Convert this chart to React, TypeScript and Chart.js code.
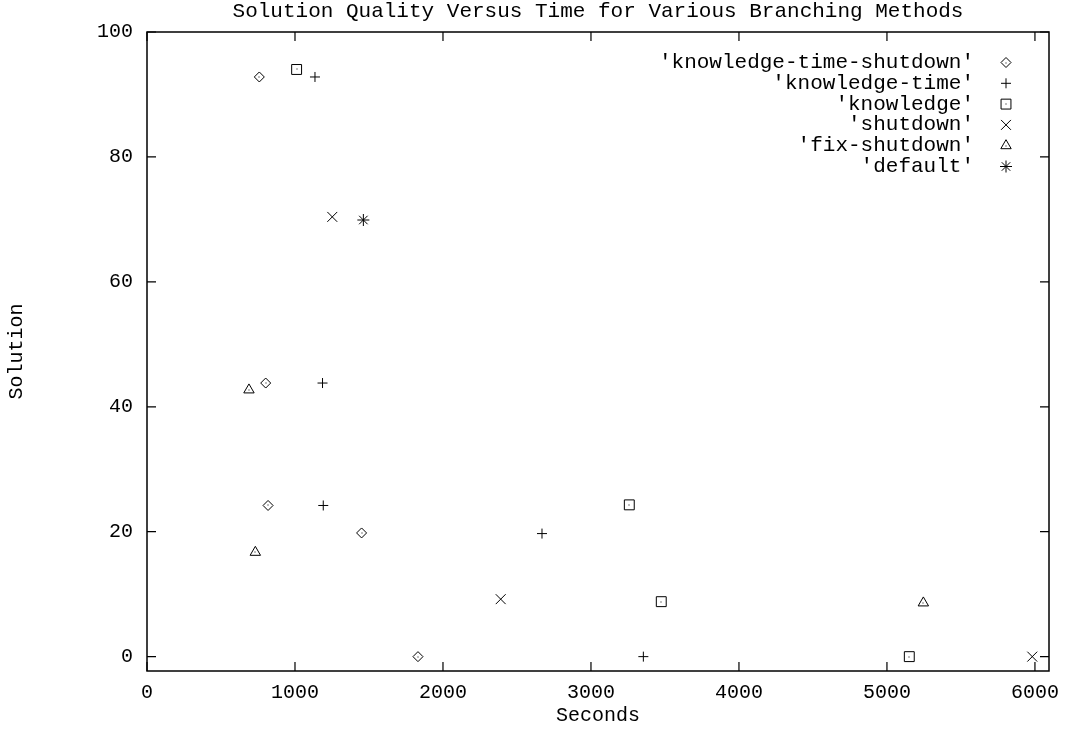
import React, { useEffect, useRef } from "react";
import { Chart, registerables } from "chart.js";
import { drawPoint } from "chart.js/helpers";

Chart.register(...registerables);

const chartTitle = "Solution Quality Versus Time for Various Branching Methods";
const xAxisTitle = "Seconds";
const yAxisTitle = "Solution";

const seriesNames = [
  "'knowledge-time-shutdown'",
  "'knowledge-time'",
  "'knowledge'",
  "'shutdown'",
  "'fix-shutdown'",
  "'default'",
];

const ktsX = [759, 802, 818, 1450, 1831];
const ktsY = [92.8, 43.8, 24.2, 19.8, 0];
const ktX = [1135, 1186, 1191, 2669, 3354];
const ktY = [92.8, 43.8, 24.2, 19.7, 0];
const kX = [1011, 3259, 3475, 5151];
const kY = [94.0, 24.3, 8.8, 0];
const shutX = [1252, 2390, 5982];
const shutY = [70.4, 9.2, 0];
const fixX = [689, 732, 5246];
const fixY = [42.7, 16.7, 8.6];
const defX = [1462];
const defY = [69.9];

const xTicks = [0, 1000, 2000, 3000, 4000, 5000, 6000];
const yTicks = [0, 20, 40, 60, 80, 100];

const seriesX = [ktsX, ktX, kX, shutX, fixX, defX];
const seriesY = [ktsY, ktY, kY, shutY, fixY, defY];
const pointStyles = ["rectRot", "cross", "rect", "crossRot", "triangle", "star"];
const pointRadii = [5, 5, 7, 7, 6, 6];
const centerDot = [true, false, true, false, true, false];

const FONT = "'Liberation Mono', 'DejaVu Sans Mono', monospace";

const decorPlugin = {
  id: "decor",
  afterDatasetsDraw(chart: any) {
    const ctx = chart.ctx;
    ctx.save();
    ctx.fillStyle = "#000";
    chart.data.datasets.forEach((ds: any, i: number) => {
      if (!centerDot[i]) return;
      const meta = chart.getDatasetMeta(i);
      meta.data.forEach((el: any) => {
        ctx.fillRect(Math.round(el.x) - 0.5, Math.round(el.y) - 0.5, 1, 1);
      });
    });
    ctx.restore();
  },
  afterDraw(chart: any) {
    const ctx = chart.ctx;
    const { left, right, top, bottom } = chart.chartArea;
    const xs = chart.scales.x;
    const ys = chart.scales.y;
    ctx.save();
    ctx.strokeStyle = "#000";
    ctx.lineWidth = 1.5;
    ctx.strokeRect(left, top, right - left, bottom - top);
    ctx.lineWidth = 1.2;
    const tl = 9;
    ctx.beginPath();
    xTicks.forEach((v) => {
      const px = xs.getPixelForValue(v);
      ctx.moveTo(px, bottom);
      ctx.lineTo(px, bottom - tl);
      ctx.moveTo(px, top);
      ctx.lineTo(px, top + tl);
    });
    yTicks.forEach((v) => {
      const py = ys.getPixelForValue(v);
      ctx.moveTo(left, py);
      ctx.lineTo(left + tl, py);
      ctx.moveTo(right, py);
      ctx.lineTo(right - tl, py);
    });
    ctx.stroke();

    ctx.fillStyle = "#000";
    ctx.font = `21px ${FONT}`;
    ctx.textAlign = "center";
    ctx.textBaseline = "middle";
    const cx = (left + right) / 2;
    ctx.fillText(chartTitle, cx, 11);
    ctx.font = `20px ${FONT}`;
    ctx.fillText(xAxisTitle, cx, 716);
    ctx.save();
    ctx.translate(17, (top + bottom) / 2);
    ctx.rotate(-Math.PI / 2);
    ctx.fillText(yAxisTitle, 0, 0);
    ctx.restore();

    // legend
    ctx.font = `21px ${FONT}`;
    ctx.textAlign = "right";
    seriesNames.forEach((name, i) => {
      const y = 62.5 + 20.8 * i;
      ctx.fillStyle = "#000";
      ctx.fillText(name, 974, y);
      ctx.strokeStyle = "#000";
      ctx.lineWidth = 1;
      ctx.fillStyle = "rgba(0,0,0,0)";
      drawPoint(
        ctx,
        { pointStyle: pointStyles[i], radius: pointRadii[i], borderWidth: 1, rotation: 0 } as any,
        1006,
        y
      );
      ctx.fillStyle = "#000";
      if (centerDot[i]) ctx.fillRect(1005.5, Math.round(y) - 0.5, 1, 1);
    });
    ctx.restore();
  },
};

export default function App() {
  const ref = useRef<HTMLCanvasElement | null>(null);
  useEffect(() => {
    if (!ref.current) return;
    const datasets = seriesNames.map((name, i) => ({
      label: name,
      data: seriesX[i].map((x, j) => ({ x, y: seriesY[i][j] })),
      pointStyle: pointStyles[i],
      pointRadius: pointRadii[i],
      pointHoverRadius: pointRadii[i],
      pointBorderWidth: 1,
      pointBorderColor: "#000",
      pointBackgroundColor: "rgba(0,0,0,0)",
      borderColor: "#000",
      showLine: false,
    }));
    const chart = new Chart(ref.current, {
      type: "scatter",
      data: { datasets } as any,
      options: {
        animation: false,
        responsive: false,
        events: [],
        layout: { padding: { top: 32, right: 16, left: 0, bottom: 0 } },
        plugins: { legend: { display: false }, tooltip: { enabled: false }, title: { display: false } },
        scales: {
          x: {
            type: "linear",
            min: 0,
            max: 6095,
            afterBuildTicks: (s: any) => {
              s.ticks = xTicks.map((v) => ({ value: v }));
            },
            afterFit: (s: any) => {
              s.height = 58;
              s.paddingLeft = 0;
              s.paddingRight = 0;
            },
            grid: { display: true, drawOnChartArea: false, drawTicks: false },
            border: { display: false },
            ticks: {
              padding: 10,
              color: "#000",
              font: { family: FONT, size: 20 },
              maxRotation: 0,
              autoSkip: false,
              callback: (v: any) => String(v),
            },
          },
          y: {
            type: "linear",
            min: -2.3,
            max: 100,
            afterBuildTicks: (s: any) => {
              s.ticks = yTicks.map((v) => ({ value: v }));
            },
            afterFit: (s: any) => {
              s.width = 147;
              s.paddingTop = 0;
              s.paddingBottom = 0;
            },
            grid: { display: true, drawOnChartArea: false, drawTicks: false },
            border: { display: false },
            ticks: {
              padding: 14,
              color: "#000",
              font: { family: FONT, size: 20 },
              autoSkip: false,
              callback: (v: any) => String(v),
            },
          },
        },
      } as any,
      plugins: [decorPlugin],
    });
    return () => chart.destroy();
  }, []);
  return (
    <div style={{ position: "fixed", left: 0, top: 0, width: 1065, height: 729, background: "#fff" }}>
      <canvas ref={ref} width={1065} height={729} style={{ width: 1065, height: 729 }} />
    </div>
  );
}
